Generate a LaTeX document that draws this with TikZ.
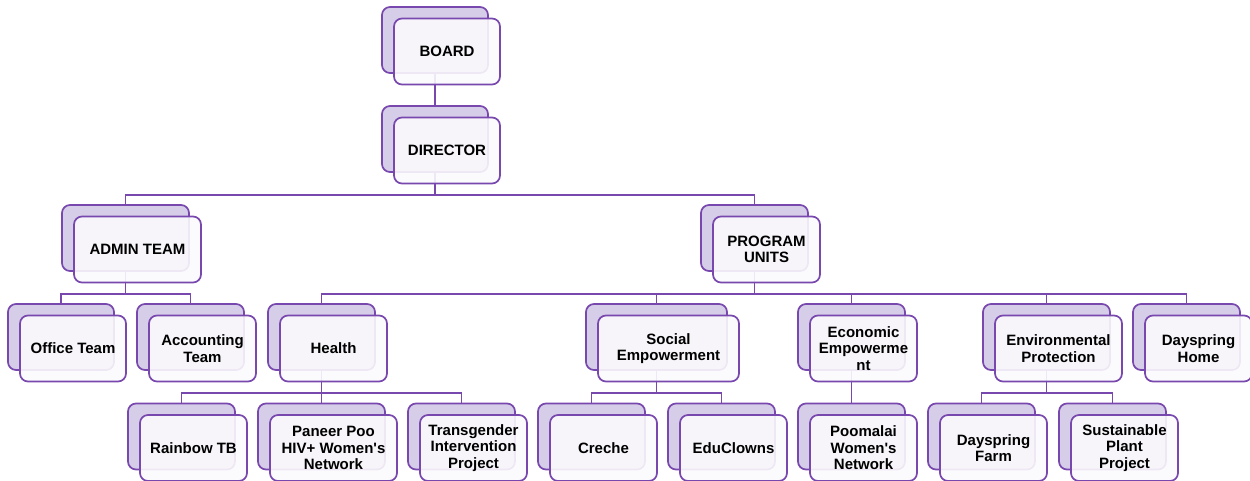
\documentclass[tikz,border=0pt]{standalone}
\usepackage{fontspec}
\setmainfont{Liberation Sans}
\usetikzlibrary{positioning, calc, backgrounds}

\definecolor{unitline}{HTML}{7848AE}
\definecolor{unitback}{HTML}{D6CEE8}
\definecolor{unitfront}{HTML}{FBFAFD}

\newcommand{\orgunit}[5]{%
	\node[backbox, minimum width=#4pt] (#1-b) at (#2,#3) {};
	\node[frontbox, minimum width=#4pt] (#1) at ($(#1-b)+(12,11.5)$) {#5};
}

\begin{document}
\begin{tikzpicture}[
				x=1pt, y=-1pt,
				font=\fontsize{15}{16.5}\selectfont\bfseries,
				backbox/.style={draw=unitline, line width=1.7pt, fill=unitback, rounded corners=8pt, minimum height=66pt},
				frontbox/.style={draw=unitline, line width=1.7pt, fill=unitfront, fill opacity=0.9, text opacity=1, rounded corners=8pt, minimum height=66pt, align=center, inner sep=2pt},
				link/.style={draw=unitline, line width=1.8pt}
				]
				\useasboundingbox (0,0) rectangle (1250,481);
				\orgunit{board}{435}{40}{106}{BOARD}
				\orgunit{director}{435}{139}{106}{DIRECTOR}
				\orgunit{admin}{125.5}{238}{127}{ADMIN TEAM}
				\orgunit{program}{754.5}{238}{107}{PROGRAM\\UNITS}
				\orgunit{office}{61}{337}{106}{Office Team}
				\orgunit{accounting}{190.5}{337}{107}{Accounting\\Team}
				\orgunit{health}{321.5}{337}{107}{Health}
				\orgunit{social}{656.5}{337}{141}{Social\\Empowerment}
				\orgunit{economic}{851.5}{337}{107}{Economic\\Empowerme\\nt}
				\orgunit{environment}{1046.5}{337}{127}{Environmental\\Protection}
				\orgunit{home}{1186.5}{337}{107}{Dayspring\\Home}
				\orgunit{rainbow}{181.5}{436.5}{107}{Rainbow TB}
				\orgunit{paneer}{321.5}{436.5}{127}{Paneer Poo\\HIV+ Women\textquotesingle s\\Network}
				\orgunit{transgender}{461.5}{436.5}{107}{Transgender\\Intervention\\Project}
				\orgunit{creche}{591.5}{436.5}{107}{Creche}
				\orgunit{educlowns}{721.5}{436.5}{107}{EduClowns}
				\orgunit{poomalai}{851.5}{436.5}{107}{Poomalai\\Women\textquotesingle s\\Network}
				\orgunit{farm}{981.5}{436.5}{107}{Dayspring\\Farm}
				\orgunit{plant}{1112.5}{436.5}{107}{Sustainable\\Plant\\Project}
				\begin{scope}[on background layer]
					\foreach \p/\c in {board/director, director/admin, director/program,
						admin/office, admin/accounting,
						program/health, program/social, program/economic, program/environment, program/home,
						health/rainbow, health/paneer, health/transgender,
						social/creche, social/educlowns, economic/poomalai,
						environment/farm, environment/plant}
						\draw[link] (\p-b.south) -- ++(0,22.5) -| (\c-b.north);
				\end{scope}
			\end{tikzpicture}
\end{document}
